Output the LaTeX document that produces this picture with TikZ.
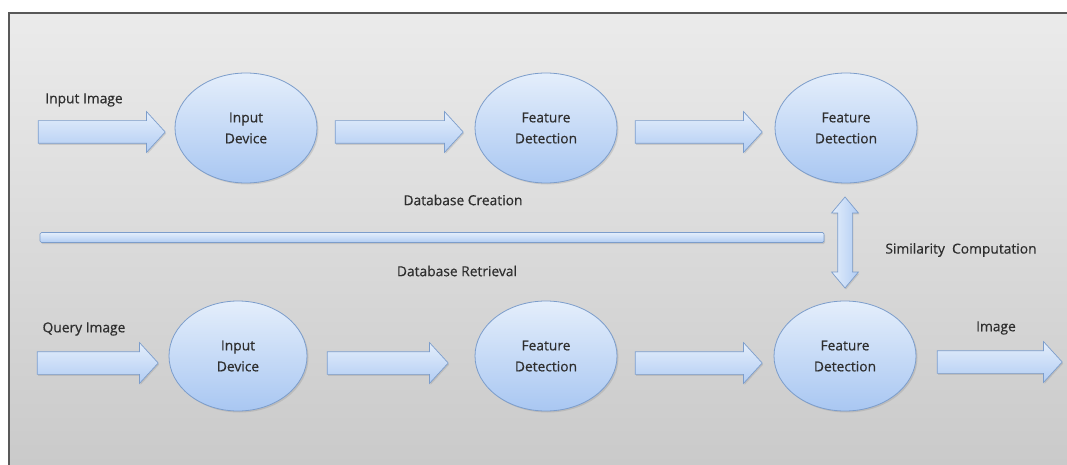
\documentclass[tikz,border=0pt]{standalone}
\usepackage{fontspec}
\setmainfont[BoldFont={Open Sans},BoldFeatures={FakeBold=0.5}]{Open Sans}
\usetikzlibrary{shapes.arrows,shapes.geometric,shadows}
\definecolor{bgtop}{HTML}{EBEBEB}
\definecolor{bgbot}{HTML}{CACACA}
\definecolor{elltop}{HTML}{E4EEFB}
\definecolor{ellbot}{HTML}{A9C7F2}
\definecolor{ellline}{HTML}{7C9DCB}
\definecolor{txt}{HTML}{2E2E2E}
\tikzset{
  lbl/.style={font=\fontsize{13.8}{16}\selectfont\bfseries, text=txt, inner sep=0pt},
  proc/.style={ellipse, draw=ellline, line width=0.8pt, top color=elltop, bottom color=ellbot,
     minimum width=142pt, minimum height=110pt, align=center, text=txt,
     font=\fontsize{13.8}{21}\selectfont\bfseries,
     drop shadow={shadow xshift=1.5pt, shadow yshift=-1.5pt, opacity=0.25, fill=gray}},
  barrow/.style={single arrow, draw=ellline, line width=0.7pt, top color=elltop, bottom color=ellbot!90,
     inner ysep=11pt, inner xsep=0pt, single arrow head extend=9pt, single arrow tip angle=95,
     shape border rotate=0, anchor=center,
     drop shadow={shadow xshift=1pt, shadow yshift=-1.5pt, opacity=0.25, fill=gray}},
  darrow/.style={double arrow, draw=ellline, line width=0.7pt, left color=elltop, right color=ellbot!90,
     inner ysep=7pt, inner xsep=0pt, double arrow head extend=6pt, double arrow tip angle=80,
     rotate=90, anchor=center,
     drop shadow={shadow xshift=1pt, shadow yshift=-1.5pt, opacity=0.25, fill=gray}},
}
\begin{document}
\begin{tikzpicture}[x=1pt,y=-1pt]
\useasboundingbox (0,0) rectangle (1067,465);
\fill[white] (0,0) rectangle (1067,465);
\shade[top color=bgtop, bottom color=bgbot] (9,13) rectangle (1067,465);
\draw[line width=1.2pt, draw=black!65] (9,465) -- (9,13) -- (1067,13);

% top row
\node[proc] (ti) at (246,128) {Input\\Device};
\node[proc] (tf) at (546,128) {Feature\\Detection};
\node[proc] (tg) at (846,128) {Feature\\Detection};
\node[barrow, minimum height=127pt] (ta1) at (96.5,132) {};
\node[barrow, minimum height=128pt] (ta2) at (394,132) {};
\node[barrow, minimum height=127pt] (ta3) at (693.5,132) {};
\node[lbl] (tlab) at (84,100) {Input Image};

% middle
\node[lbl] (dbc) at (463,200) {Database Creation};
\node[lbl] (dbr) at (457,271) {Database Retrieval};
\node[draw=ellline, line width=0.7pt, top color=elltop, bottom color=ellbot!90, rounded corners=1.5pt,
      minimum width=784pt, minimum height=10pt, inner sep=0pt,
      drop shadow={shadow xshift=1pt, shadow yshift=-1.5pt, opacity=0.25, fill=gray}] (bar) at (432,237.5) {};
\node[darrow, minimum height=91pt, minimum width=26pt] (sim) at (845,242.5) {};
\node[lbl] (simlab) at (961,250) {Similarity\ \ Computation};

% bottom row
\node[proc, minimum width=138pt] (bi) at (238,356) {Input\\Device};
\node[proc] (bf) at (546,356) {Feature\\Detection};
\node[proc] (bg) at (845,356) {Feature\\Detection};
\node[barrow, minimum height=121pt] (ba1) at (92.5,363) {};
\node[barrow, minimum height=121pt] (ba2) at (382.5,363) {};
\node[barrow, minimum height=127pt] (ba3) at (693.5,363) {};
\node[barrow, minimum height=125pt] (ba4) at (994.5,362) {};
\node[lbl] (qlab) at (84,329) {Query Image};
\node[lbl] (olab) at (996,328) {Image};
\end{tikzpicture}
\end{document}
